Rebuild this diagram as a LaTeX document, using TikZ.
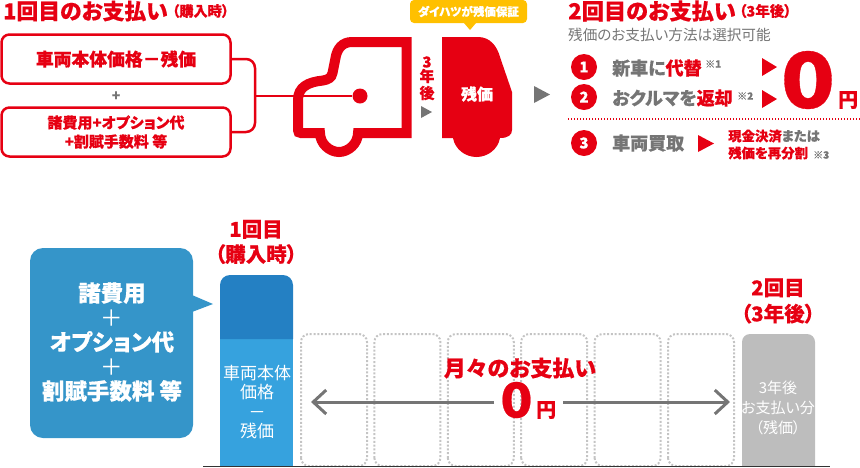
\documentclass[tikz,border=0pt]{standalone}
\usepackage{fontspec}
\setmainfont[RawFeature=+palt, BoldFeatures={FakeBold=0.4}]{Noto Sans CJK JP}
\usepackage{tikz}
\usetikzlibrary{arrows.meta}
\definecolor{payred}{HTML}{E60012}
\definecolor{paygray}{HTML}{757575}
\definecolor{payyellow}{HTML}{FFC000}
\definecolor{feeblue}{HTML}{3595C9}
\definecolor{feedark}{HTML}{2480C3}
\definecolor{barblue}{HTML}{36A2DE}
\definecolor{bargray}{HTML}{BDBDBD}
\newcommand{\fs}[1]{\fontsize{#1}{#1}\selectfont}
\newcommand{\fsl}[2]{\fontsize{#1}{#2}\selectfont}
\begin{document}
\begin{tikzpicture}[x=1pt, y=-1pt]
		\tikzset{label/.style={inner sep = 0, text = payred, font = \bfseries}}
		\tikzset{graylabel/.style={inner sep = 0, text = paygray, font = \bfseries}}
		\tikzset{whitelabel/.style={inner sep = 0, text = white, align = center}}
		\tikzset{notelabel/.style={inner sep = 0, anchor = west, text = paygray, font = \bfseries\fs{10}}}
		\tikzset{costbox/.style={draw = payred, line width = 2.5pt, rounded corners = 8pt, minimum width = 229pt, minimum height = 49pt, inner sep = 0, text = payred, align = center}}
		\tikzset{numdot/.style={shape = circle, fill = payred, minimum size = 26pt, inner sep = 0, text = white, font = \bfseries\fs{15}}}
		\tikzset{link/.style={draw = payred, line width = 2.5pt, rounded corners = 9pt}}
		\tikzset{monthbox/.style={draw = bargray!90, line width = 2pt, dash pattern = on 2pt off 1.8pt, rounded corners = 8pt}}
		\tikzset{monthlink/.style={draw = paygray, line width = 3pt, -{Straight Barb[length = 13pt, width = 24pt, line width = 3pt]}}}
		\useasboundingbox (0, 0) rectangle (860, 467);
		%top left
		\node[label, anchor = west] (firsttitle) at (3, 11) {\fs{21.8}1回目のお支払い};
		\node[label, anchor = west] (firstwhen) at (172, 11) {\fs{14.2}（購入時）};
		\node[costbox, font = \bfseries\fs{17.8}] (bodybox) at (116, 59) {車両本体価格－残価};
		\node[graylabel] (plus) at (116, 96) {\fs{14}+};
		\node[costbox, font = \bfseries\fsl{15}{19}] (feebox) at (116, 132) {諸費用+オプション代\\+割賦手数料 等};
		\coordinate (joint) at (255, 96);
		\node[shape = circle, fill = payred, minimum size = 15pt, inner sep = 0] (cardot) at (360, 96) {};
		\draw[link] (bodybox.east) -| (joint) |- (feebox.east);
		\draw[draw = payred, line width = 2pt] (joint) -- (cardot);
		%cars
		\draw[payred, line width = 10pt, line join = miter] (406.5, 42) -- (352, 42) .. controls (342, 42) and (337, 49) .. (335.5, 58) -- (332.5, 73) .. controls (331.5, 78) and (328, 79.5) .. (323, 80.5) .. controls (308, 82) and (298, 87) .. (298, 100) -- (298, 130) .. controls (298, 132) and (299, 133) .. (301, 133) -- (320, 133) .. controls (320, 143.5) and (329.5, 152) .. (339, 152) .. controls (348.5, 152) and (358, 143.5) .. (358, 133) -- (406.5, 133) -- cycle;
		\fill[payred] (442, 37) -- (478, 37) .. controls (490, 37) and (497, 46) .. (500, 57) -- (512, 92) -- (512, 130) .. controls (512, 135) and (508, 138) .. (500, 138) .. controls (498, 149) and (488, 157) .. (476.5, 157) .. controls (465, 157) and (455, 149) .. (453, 138) -- (442, 138) -- cycle;
		\node[whitelabel, font = \bfseries\fs{16}] (rest) at (477, 94) {残価};
		\fill[payyellow, rounded corners = 4pt] (410, 0) rectangle (527, 23);
		\fill[payyellow] (464, 23) -- (470, 30) -- (476, 23) -- cycle;
		\node[whitelabel, font = \bfseries\fs{11.5}] (guarantee) at (468.5, 11.5) {ダイハツが残価保証};
		\node[label] (three) at (427, 62) {\fs{15}3};
		\node[label] (nen) at (427, 76) {\fs{15}年};
		\node[label] (go) at (427, 93) {\fs{15}後};
		\fill[paygray] (421, 106) -- (432, 112) -- (421, 118) -- cycle;
		\fill[paygray] (534, 86) -- (550, 94.5) -- (534, 103) -- cycle;
		%top right
		\node[label, anchor = west] (secondtitle) at (568, 11) {\fs{22.2}2回目のお支払い};
		\node[label, anchor = west] (secondwhen) at (739, 11) {\fs{14.5}（3年後）};
		\node[inner sep = 0, anchor = west, text = paygray] (method) at (568, 35) {\fs{14.6}残価のお支払い方法は選択可能};
		\node[numdot] (one) at (584, 67) {1};
		\node[numdot] (two) at (584, 97) {2};
		\node[numdot] (thr) at (584, 143) {3};
		\node[graylabel, anchor = west] (trade) at (612, 68) {\fs{18}新車に\textcolor{payred}{代替}};
		\node[notelabel] (noteone) at (705, 64) {※1};
		\node[graylabel, anchor = west] (giveback) at (612, 98) {\fs{18}おクルマを\textcolor{payred}{返却}};
		\node[notelabel] (notetwo) at (737, 96) {※2};
		\fill[payred] (762, 58) -- (777, 67) -- (762, 76) -- cycle;
		\fill[payred] (762, 90) -- (777, 99) -- (762, 108) -- cycle;
		\node[label, xscale = 1.16] (bigzero) at (808, 80) {\fs{77}0};
		\node[label, anchor = west] (bigyen) at (838, 100) {\fs{20}円};
		\draw[payred, line width = 1.2pt, dash pattern = on 1.2pt off 1.8pt] (568, 119) -- (860, 119);
		\node[graylabel, anchor = west] (buyback) at (612, 143) {\fs{18}車両買取};
		\fill[payred] (698, 135) -- (714, 143.5) -- (698, 152) -- cycle;
		\node[graylabel, anchor = west] (cash) at (728, 136) {\fs{13.4}\textcolor{payred}{現金決済}または};
		\node[label, anchor = west] (split) at (728, 153) {\fs{13.4}残価を再分割};
		\node[notelabel] (notethr) at (813, 155) {※3};
		%callout
		\fill[feeblue, rounded corners = 13pt] (30, 248) rectangle (193, 438);
		\fill[feeblue] (192, 295) -- (213, 304) -- (192, 312) -- cycle;
		\node[whitelabel, font = \fsl{22.5}{24.5}] (feelist) at (112, 342) {\textbf{諸費用}\\＋\\\textbf{オプション代}\\＋\\\textbf{割賦手数料 等}};
		%bars
		\node[label, align = center, font = \bfseries\fsl{20.5}{25}] (firsthead) at (256, 242) {1回目\\（購入時）};
		\fill[barblue] (220, 339) rectangle (293, 466);
		\fill[feedark] (220, 339) [rounded corners = 10pt] -- (220, 275) -- (293, 275) [sharp corners] -- (293, 339) -- cycle;
		\node[whitelabel, font = \fsl{17}{19.3}] (firstbar) at (257, 402) {車両本体\\価格\\－\\残価};
		\foreach \n in {301, 374.4, 447.8, 521.2, 594.6, 668}
			\draw[monthbox] (\n, 466) -- (\n, 334) -- (\n + 66, 334) -- (\n + 66, 466) -- cycle;
		\fill[bargray] (742, 466) [rounded corners = 8pt] -- (742, 334) -- (815, 334) [sharp corners] -- (815, 466) -- cycle;
		\node[label, align = center, font = \bfseries\fsl{20.5}{26}] (secondhead) at (778, 301) {2回目\\（3年後）};
		\node[whitelabel, font = \fsl{15}{20}] (secondbar) at (778, 408) {3年後\\お支払い分\\（残価）};
		\draw[draw = black!80, line width = 1pt] (203, 466) -- (830, 466);
		%monthly
		\node[label] (monthly) at (520, 368) {\fs{22}月々のお支払い};
		\node[label, xscale = 1.1] (zero) at (516.5, 400) {\fs{48}0};
		\node[label, anchor = west] (yen) at (536, 410) {\fs{20}円};
		\coordinate (leftend) at (311, 402);
		\coordinate (rightend) at (730, 402);
		\draw[monthlink] (494, 402) -- (leftend);
		\draw[monthlink] (563, 402) -- (rightend);
\end{tikzpicture}
\end{document}
